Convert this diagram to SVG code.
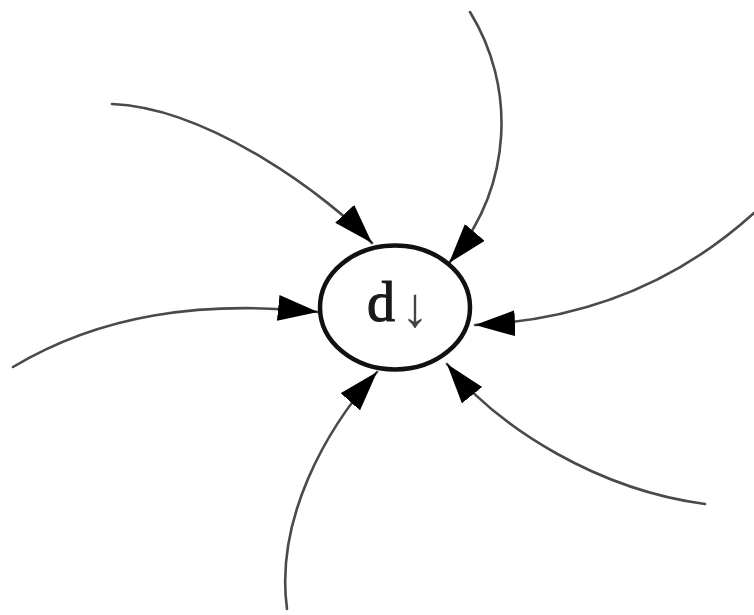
<svg xmlns="http://www.w3.org/2000/svg" width="754" height="615" viewBox="0 0 754 615">
<style>
.edge{fill:none;stroke:#4a4a4a;stroke-width:2.6;stroke-linecap:round}
.node{fill:#fff;stroke:#111;stroke-width:4.5}
.label{font-family:"Liberation Serif","DejaVu Serif",serif;font-size:56px;fill:#1a1a1a}
.d{stroke:#1a1a1a;stroke-width:1.2}
.arr{fill:#444}
</style>
<defs>
<marker id="ah" markerUnits="userSpaceOnUse" markerWidth="44" markerHeight="30" refX="40" refY="13" orient="auto">
<path d="M0,0 L40,13 L0,26 z" fill="#000"/>
</marker>
</defs>
<rect width="754" height="615" fill="#fff"/>
<g id="edges">
<path class="edge" marker-end="url(#ah)" d="M112,104 C210,108 330,198 372,243"/>
<path class="edge" marker-end="url(#ah)" d="M470,12 C515,85 515,185 449,263"/>
<path class="edge" marker-end="url(#ah)" d="M754,213 C680,280 590,320 475,325"/>
<path class="edge" marker-end="url(#ah)" d="M705,504 C600,490 500,430 447,364"/>
<path class="edge" marker-end="url(#ah)" d="M287,609 C275,520 325,430 377,372"/>
<path class="edge" marker-end="url(#ah)" d="M13,367 C100,315 200,300 318,312"/>
</g>
<g id="node-d">
<ellipse class="node" cx="395" cy="307.5" rx="75" ry="62"/>
<text class="label" x="398" y="321" text-anchor="middle"><tspan class="d">d</tspan><tspan class="arr" dx="6" dy="5">↓</tspan></text>
</g>
</svg>
